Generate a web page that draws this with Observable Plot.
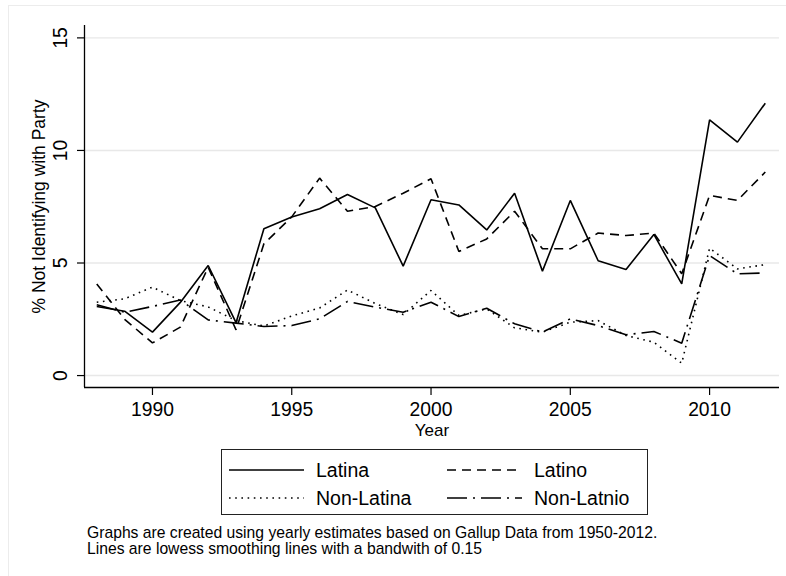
<!DOCTYPE html>
<html>
<head>
<meta charset="utf-8">
<script src="https://cdn.jsdelivr.net/npm/d3@7"></script>
<script src="https://cdn.jsdelivr.net/npm/@observablehq/plot@0.6"></script>
<style>
  html, body { margin: 0; padding: 0; background: #fff; overflow: hidden; }
  #wrap { position: relative; width: 786px; height: 576px; overflow: hidden; font-family: "Liberation Sans", Arial, Helvetica, sans-serif; color: #000; }
  #outer { position: absolute; left: 8px; top: 5px; width: 800px; height: 600px; border: 1.5px solid #ececec; box-sizing: border-box; }
  #chart { position: absolute; left: 0; top: 0; }
  #legend { position: absolute; left: 221px; top: 449px; width: 427px; height: 66px; border: 1.3px solid #222; box-sizing: border-box; background: #fff; }
  .lg-item { position: absolute; font-size: 19.5px; line-height: 20px; white-space: nowrap; }
  .lg-svg { position: absolute; }
  #caption { position: absolute; left: 87px; top: 525px; font-size: 15.7px; line-height: 16px; white-space: nowrap; }
</style>
</head>
<body>
<div id="wrap">
  <div id="outer"></div>
  <div id="chart"></div>
  <div id="legend"></div>
  <div id="caption"></div>
</div>
<script>
// ---- Data ----
const years = [1988, 1989, 1990, 1991, 1992, 1993, 1994, 1995, 1996, 1997, 1998, 1999, 2000,
               2001, 2002, 2003, 2004, 2005, 2006, 2007, 2008, 2009, 2010, 2011, 2012];
const latina    = [3.07, 2.86, 1.93, 3.25, 4.89, 2.35, 6.52, 7.04, 7.41, 8.04, 7.45, 4.86, 7.81,
                   7.58, 6.47, 8.10, 4.64, 7.78, 5.10, 4.71, 6.27, 4.07, 11.36, 10.37, 12.10];
const latino    = [4.07, 2.50, 1.45, 2.15, 4.81, 2.03, 5.85, 7.05, 8.77, 7.30, 7.51, 8.10, 8.74,
                   5.51, 6.07, 7.30, 5.63, 5.63, 6.33, 6.22, 6.33, 4.52, 8.00, 7.78, 9.04];
const nonLatina = [3.26, 3.41, 3.93, 3.33, 3.05, 2.44, 2.20, 2.65, 3.00, 3.80, 3.20, 2.71, 3.78,
                   2.67, 2.96, 2.12, 1.93, 2.37, 2.44, 1.78, 1.48, 0.55, 5.66, 4.74, 4.93];
const nonLatino = [3.15, 2.81, 3.07, 3.36, 2.47, 2.33, 2.18, 2.22, 2.52, 3.29, 3.04, 2.81, 3.26,
                   2.62, 2.99, 2.30, 1.93, 2.52, 2.22, 1.81, 1.96, 1.44, 5.33, 4.52, 4.56];
const seriesNames = ["Latina", "Latino", "Non-Latina", "Non-Latnio"];
const xTicks = [1990, 1995, 2000, 2005, 2010];
const yTicks = [0, 5, 10, 15];
const xTitle = "Year";
const yTitle = "% Not Identifying with Party";
const captionLines = [
  "Graphs are created using yearly estimates based on Gallup Data from 1950-2012.",
  "Lines are lowess smoothing lines with a bandwith of 0.15"
];

// ---- Styles ----
const dashes = {
  "Latina": null,
  "Latino": "9,6",
  "Non-Latina": "1.6,4.6",
  "Non-Latnio": "20,6,2,6"
};
const FONT = '"Liberation Sans", Arial, Helvetica, sans-serif';

const valuesBySeries = { "Latina": latina, "Latino": latino, "Non-Latina": nonLatina, "Non-Latnio": nonLatino };
const data = seriesNames.flatMap(name =>
  years.map((year, i) => ({ series: name, year, value: valuesBySeries[name][i] }))
);

const xDomain = [1987.56, 2012.51];
const yDomain = [-0.53, 15.55];

const lineMarks = seriesNames.map(name =>
  Plot.line(data.filter(d => d.series === name), {
    x: "year", y: "value",
    stroke: "#000", strokeWidth: 1.6,
    strokeDasharray: dashes[name] || undefined,
    strokeLinejoin: "miter", strokeLinecap: "butt"
  })
);

const chart = Plot.plot({
  width: 786,
  height: 440,
  marginLeft: 84,
  marginRight: 7,
  marginTop: 25,
  marginBottom: 53,
  style: { fontFamily: FONT, background: "transparent", color: "#000", overflow: "visible" },
  x: { domain: xDomain, label: null },
  y: { domain: yDomain, label: null },
  marks: [
    Plot.ruleY(yTicks, { stroke: "#e8e8e8", strokeWidth: 1.4 }),
    ...lineMarks,
    Plot.ruleX([xDomain[0]], { stroke: "#000", strokeWidth: 1.3 }),
    Plot.ruleY([yDomain[0]], { stroke: "#000", strokeWidth: 1.3 }),
    Plot.axisX({ ticks: xTicks, tickSize: 8, tickPadding: 7, fontSize: 19.3, label: null, tickFormat: d => String(d), strokeWidth: 1.2 }),
    Plot.axisY({ ticks: yTicks, tickSize: 7, tickFormat: () => "", label: null, strokeWidth: 1.2 }),
    Plot.text(yTicks, { y: d => d, frameAnchor: "left", dx: -24, rotate: -90, text: d => String(d), fontSize: 19.3, textAnchor: "middle", lineAnchor: "middle" }),
    Plot.text([xTitle], { frameAnchor: "bottom", dy: 43, text: d => d, fontSize: 17, textAnchor: "middle", lineAnchor: "middle" }),
    Plot.text([yTitle], { frameAnchor: "left", dx: -45, rotate: -90, text: d => d, fontSize: 17.5, textAnchor: "middle", lineAnchor: "middle" })
  ]
});
document.getElementById("chart").appendChild(chart);

// ---- Legend (2 columns x 2 rows) ----
const legend = document.getElementById("legend");
const legendPos = [
  { name: "Latina",     sx: 7,   tx: 94,  row: 0 },
  { name: "Latino",     sx: 225, tx: 312, row: 0 },
  { name: "Non-Latina", sx: 7,   tx: 94,  row: 1 },
  { name: "Non-Latnio", sx: 225, tx: 312, row: 1 }
];
const rowCenter = [20, 48];
legendPos.forEach(p => {
  const ns = "http://www.w3.org/2000/svg";
  const svg = document.createElementNS(ns, "svg");
  svg.setAttribute("class", "lg-svg");
  svg.setAttribute("width", 76);
  svg.setAttribute("height", 6);
  svg.style.left = p.sx + "px";
  svg.style.top = (rowCenter[p.row] - 3) + "px";
  const ln = document.createElementNS(ns, "line");
  ln.setAttribute("x1", 0); ln.setAttribute("x2", 75);
  ln.setAttribute("y1", 3); ln.setAttribute("y2", 3);
  ln.setAttribute("stroke", "#000");
  ln.setAttribute("stroke-width", 1.6);
  if (dashes[p.name]) ln.setAttribute("stroke-dasharray", dashes[p.name]);
  svg.appendChild(ln);
  legend.appendChild(svg);
  const t = document.createElement("div");
  t.className = "lg-item";
  t.textContent = p.name;
  t.style.left = p.tx + "px";
  t.style.top = (rowCenter[p.row] - 10.3) + "px";
  legend.appendChild(t);
});

// ---- Caption ----
const cap = document.getElementById("caption");
captionLines.forEach(line => {
  const d = document.createElement("div");
  d.textContent = line;
  cap.appendChild(d);
});
</script>
</body>
</html>
